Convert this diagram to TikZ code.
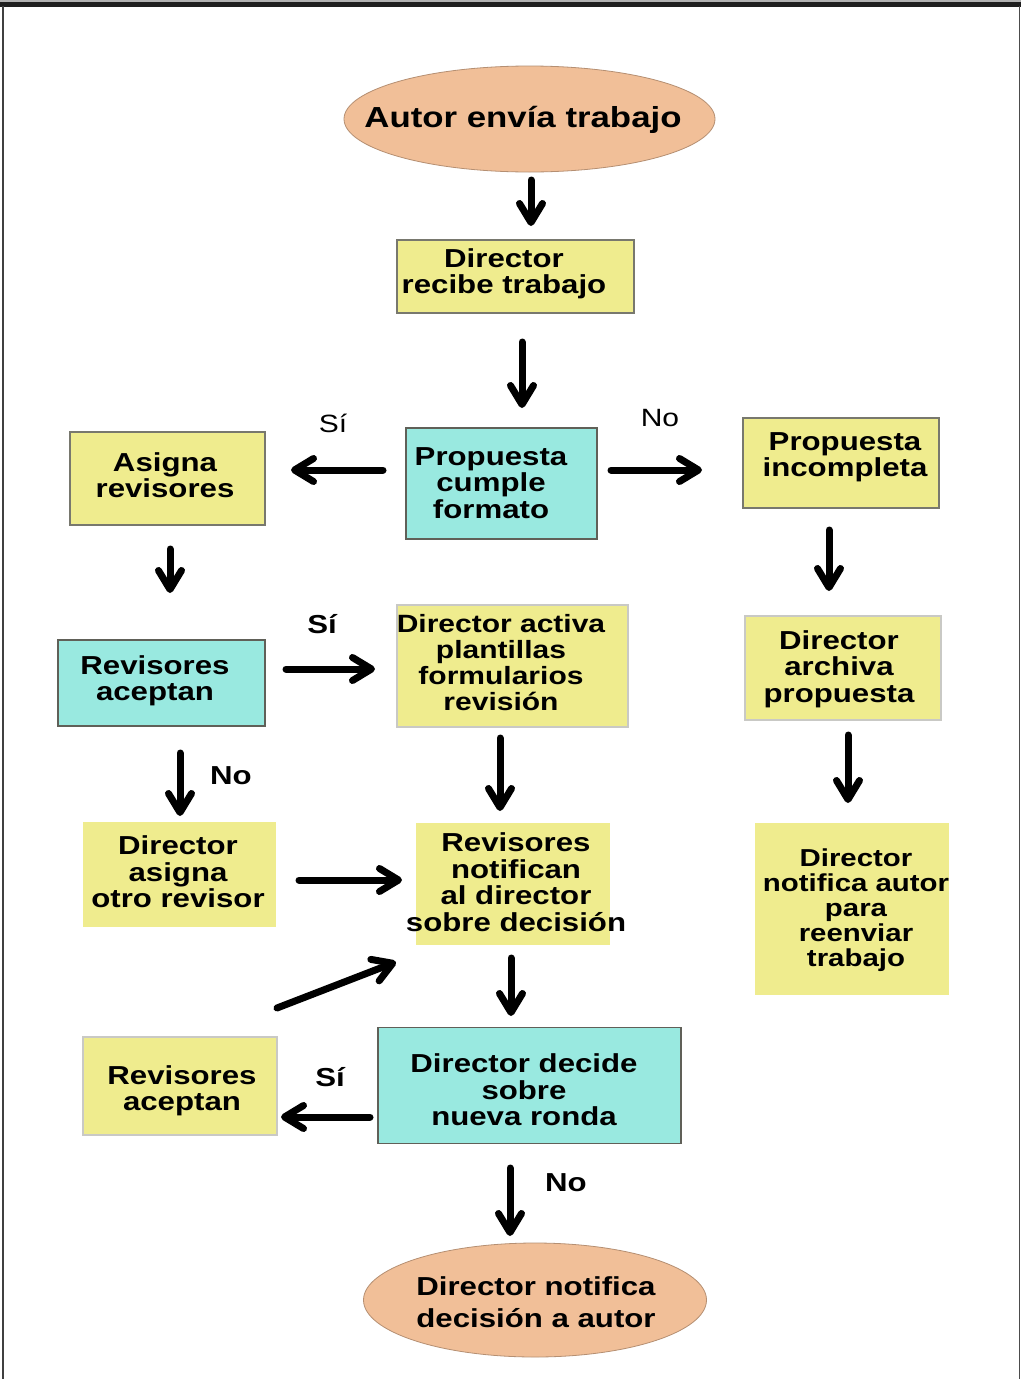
\documentclass[tikz,border=0pt]{standalone}
\usepackage{fontspec}
\setmainfont[FakeStretch=1.2]{Liberation Sans}
\usetikzlibrary{arrows.meta,shapes.geometric}
\definecolor{ybox}{RGB}{239,236,142}
\definecolor{cbox}{RGB}{153,233,224}
\definecolor{sal}{RGB}{241,191,152}
\definecolor{bord}{RGB}{120,120,110}
\begin{document}
\begin{tikzpicture}[x=1pt,y=-1pt,
  yb/.style={draw=bord, line width=1.4pt, fill=ybox, inner sep=0pt},
  ybn/.style={fill=ybox, inner sep=0pt},
  cb/.style={draw=bord!80!black, line width=1.6pt, fill=cbox, inner sep=0pt},
  ell/.style={ellipse, draw=sal!75!black, line width=0.8pt, fill=sal, inner sep=0pt},
  txt/.style={font=\bfseries\fontsize{26}{26.5}\selectfont, align=center, inner sep=0pt},
  lab/.style={font=\fontsize{25}{25}\selectfont, inner sep=0pt},
  labb/.style={font=\bfseries\fontsize{26}{26}\selectfont, inner sep=0pt},
  arr/.style={line width=7pt, line cap=round, -{Straight Barb[length=19pt,width=23pt,line cap=round,line join=round]}}
]
\useasboundingbox (0,0) rectangle (1021,1379);
\fill[white] (0,0) rectangle (1021,1379);
% frame
\fill[gray!60] (0,0) rectangle (1021,1.5);
\fill[black!88] (0,1.5) rectangle (1021,7);
\draw[black!75, line width=2pt] (2.5,6) -- (2.5,1379);
\draw[gray!60!black, line width=1.5pt] (1019.5,6) -- (1019.5,1379);

% ellipses
\node[ell, minimum width=371pt, minimum height=106pt] (autor) at (529.5,119) {};
\node[txt, font=\bfseries\fontsize{29}{29}\selectfont] (autorT) at (523,120) {Autor envía trabajo};
\node[ell, minimum width=343pt, minimum height=114pt] (final) at (535,1300) {};
\node[txt, font=\bfseries\fontsize{26}{32}\selectfont] (finalT) at (536,1302) {Director notifica\\decisión a autor};

% boxes
\node[yb, minimum width=237pt, minimum height=73pt] (recibe) at (515.5,276.5) {};
\node[txt] (recibeT) at (504,274) {Director\\recibe trabajo};

\node[cb, minimum width=191pt, minimum height=111pt] (cumple) at (501.5,483.5) {};
\node[txt] (cumpleT) at (491,483) {Propuesta\\cumple\\formato};

\node[yb, minimum width=195pt, minimum height=93pt] (asigna) at (167.5,478.5) {};
\node[txt] (asignaT) at (165,475) {Asigna\\revisores};

\node[yb, minimum width=196pt, minimum height=90pt] (incomp) at (841,463) {};
\node[txt] (incompT) at (845,457) {Propuesta\\incompleta};

\node[cb, minimum width=207pt, minimum height=86pt] (acep1) at (161.5,683) {};
\node[txt] (acep1T) at (155,681) {Revisores\\aceptan};

\node[yb, draw=bord!40, minimum width=231pt, minimum height=122pt] (activa) at (512.5,666) {};
\node[txt, font=\bfseries\fontsize{25}{26}\selectfont] (activaT) at (501,663) {Director activa\\plantillas\\formularios\\revisión};

\node[yb, draw=bord!40, minimum width=196pt, minimum height=104pt] (archiva) at (843,668) {};
\node[txt] (archivaT) at (839,669) {Director\\archiva\\propuesta};

\node[ybn, minimum width=193pt, minimum height=105pt] (otro) at (179.5,874.5) {};
\node[txt] (otroT) at (178,872) {Director\\asigna\\otro revisor};

\node[ybn, minimum width=194pt, minimum height=122pt] (notif) at (513,884) {};
\node[txt] (notifT) at (516,882) {Revisores\\notifican\\al director\\sobre decisión};

\node[ybn, minimum width=194pt, minimum height=172pt] (reenv) at (852,909) {};
\node[txt, font=\bfseries\fontsize{24.5}{25}\selectfont] (reenvT) at (856,910) {Director\\notifica autor\\para\\reenviar\\trabajo};

\node[cb, minimum width=303pt, minimum height=116pt] (decide) at (529.5,1085.5) {};
\node[txt] (decideT) at (524,1090) {Director decide\\sobre\\nueva ronda};

\node[yb, draw=bord!40, minimum width=194pt, minimum height=98pt] (acep2) at (180,1086) {};
\node[txt] (acep2T) at (182,1091) {Revisores\\aceptan};

% labels
\node[lab] (si1) at (333,423) {Sí};
\node[lab] (no1) at (660,418) {No};
\node[labb] (si2) at (322,624) {Sí};
\node[labb] (no2) at (231,776) {No};
\node[labb] (si3) at (330,1077) {Sí};
\node[labb] (no3) at (566,1183) {No};

% arrow end points
\coordinate (a1s) at (531,180);  \coordinate (a1e) at (531,226);
\coordinate (a2s) at (522,342);  \coordinate (a2e) at (522,408);
\coordinate (a3s) at (383,470);  \coordinate (a3e) at (291,470);
\coordinate (a4s) at (611,470);  \coordinate (a4e) at (702,470);
\coordinate (a5s) at (170,549);  \coordinate (a5e) at (170,593);
\coordinate (a6s) at (829,530);  \coordinate (a6e) at (829,591);
\coordinate (a7s) at (286,669);  \coordinate (a7e) at (375,669);
\coordinate (a8s) at (180,753);  \coordinate (a8e) at (180,816);
\coordinate (a9s) at (500,738);  \coordinate (a9e) at (500,811);
\coordinate (a10s) at (848,735); \coordinate (a10e) at (848,803);
\coordinate (a11s) at (299,880); \coordinate (a11e) at (402,880);
\coordinate (a12s) at (277,1008); \coordinate (a12e) at (396,962);
\coordinate (a13s) at (511,958); \coordinate (a13e) at (511,1016);
\coordinate (a14s) at (370,1117); \coordinate (a14e) at (281,1117);
\coordinate (a15s) at (510,1168); \coordinate (a15e) at (510,1236);

\draw[arr] (a1s) -- (a1e);
\draw[arr] (a2s) -- (a2e);
\draw[arr] (a3s) -- (a3e);
\draw[arr] (a4s) -- (a4e);
\draw[arr] (a5s) -- (a5e);
\draw[arr] (a6s) -- (a6e);
\draw[arr] (a7s) -- (a7e);
\draw[arr] (a8s) -- (a8e);
\draw[arr] (a9s) -- (a9e);
\draw[arr] (a10s) -- (a10e);
\draw[arr] (a11s) -- (a11e);
\draw[arr] (a12s) -- (a12e);
\draw[arr] (a13s) -- (a13e);
\draw[arr] (a14s) -- (a14e);
\draw[arr] (a15s) -- (a15e);
\end{tikzpicture}
\end{document}
